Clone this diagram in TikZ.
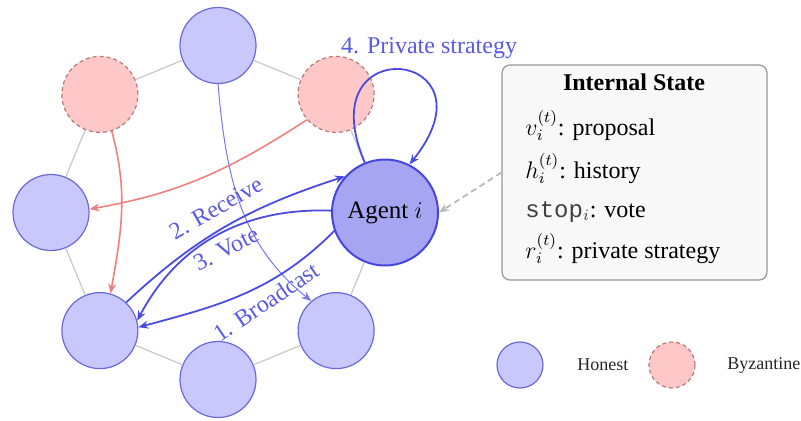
\documentclass[tikz,border=0pt]{standalone}
\usepackage{fontspec}
\setmainfont{Liberation Serif}
\setmonofont{Liberation Mono}
\usetikzlibrary{arrows.meta}
\definecolor{hfill}{RGB}{200,200,252}
\definecolor{hdraw}{RGB}{105,105,215}
\definecolor{afill}{RGB}{165,165,242}
\definecolor{adraw}{RGB}{70,70,222}
\definecolor{bfill}{RGB}{255,200,200}
\definecolor{bdraw}{RGB}{185,120,120}
\definecolor{ablue}{RGB}{75,75,225}
\definecolor{tblue}{RGB}{90,90,225}
\definecolor{thinblue}{RGB}{120,120,232}
\definecolor{rarrow}{RGB}{240,128,128}
\definecolor{ringgray}{RGB}{200,200,200}
\definecolor{boxfill}{RGB}{248,248,248}
\definecolor{boxdraw}{RGB}{150,150,150}
\begin{document}
\begin{tikzpicture}[x=0.5pt,y=0.5pt,
  honest/.style={circle,draw=hdraw,fill=hfill,line width=0.6pt,minimum size=38pt,inner sep=0pt},
  byz/.style={circle,draw=bdraw,fill=bfill,line width=0.6pt,dashed,dash pattern=on 2pt off 1.5pt,minimum size=38pt,inner sep=0pt},
  agentnode/.style={circle,draw=adraw,fill=afill,line width=1pt,minimum size=53pt,inner sep=0pt,font=\fontsize{12.5}{14}\selectfont},
  ringline/.style={draw=ringgray,line width=0.6pt},
  bluearrow/.style={draw=ablue,line width=0.9pt,-{Stealth[length=5pt,width=4pt]}},
  thinarrow/.style={draw=thinblue,line width=0.5pt,-{Stealth[length=5pt,width=4pt]}},
  redarrow/.style={draw=rarrow,line width=0.8pt,-{Stealth[length=5pt,width=4pt]}},
  lbl/.style={text=tblue,font=\fontsize{12}{14}\selectfont,inner sep=1pt},
  boxtext/.style={anchor=base west,font=\fontsize{12}{14}\selectfont,inner sep=0pt},
  legtext/.style={anchor=west,font=\fontsize{9}{11}\selectfont,text=black!85,inner sep=0pt}
]
\useasboundingbox (0,0) rectangle (801,420);

% ring nodes
\node[honest] (top) at (218,374.5) {};
\node[byz] (tr) at (336.1,325.6) {};
\node[agentnode] (agent) at (385,207.5) {Agent $i$};
\node[honest] (br) at (336.1,89.4) {};
\node[honest] (bottom) at (218,40.5) {};
\node[honest] (bl) at (99.9,89.4) {};
\node[honest] (left) at (51,207.5) {};
\node[byz] (tl) at (99.9,325.6) {};

% ring lines
\draw[ringline] (top) -- (tr);
\draw[ringline] (tr) -- (agent);
\draw[ringline] (agent) -- (br);
\draw[ringline] (br) -- (bottom);
\draw[ringline] (bottom) -- (bl);
\draw[ringline] (bl) -- (left);
\draw[ringline] (left) -- (tl);
\draw[ringline] (tl) -- (top);

% internal state box
\node[draw=boxdraw,fill=boxfill,rounded corners=4pt,line width=0.6pt,
      minimum width=132.5pt,minimum height=107.5pt,inner sep=0pt] (box) at (634.5,247.5) {};
\node[anchor=base,font=\bfseries\fontsize{12}{14}\selectfont,inner sep=0pt] (title) at (634,330) {Internal State};
\node[boxtext] (rv) at (525,285) {$v_i^{(t)}$: proposal};
\node[boxtext] (rh) at (525,242) {$h_i^{(t)}$: history};
\node[boxtext] (rs) at (525,203) {{\color{black!75}\texttt{stop}$_i$}: vote};
\node[boxtext] (rr) at (525,162) {$r_i^{(t)}$: private strategy};

% legend
\node[honest,minimum size=23pt] (lh) at (520,55) {};
\node[legtext] (lht) at (577,55) {Honest};
\node[byz,minimum size=23pt] (lb) at (672,55) {};
\node[legtext] (lbt) at (727,55) {Byzantine};

% arrows
\draw[thinarrow] (top.270) to[out=-85,in=141] (br.130);
\draw[redarrow] (tl.-72) to[out=-75,in=80] (bl.74);
\draw[redarrow] (tr.221) to[out=213,in=10] (left.5);
\draw[bluearrow] (bl.47) to[out=43,in=198] (agent.138);
\draw[bluearrow] (agent.178) to[out=178,in=62] (bl.15);
\draw[bluearrow] (agent.200) to[out=225,in=15] (bl.5);
\draw[bluearrow] (agent.112) .. controls +(-58,135) and +(92,115) .. (agent.63);
\draw[draw=gray!55,line width=0.9pt,dash pattern=on 3pt off 2pt,-{Stealth[length=5pt,width=4pt]}] (box.west) -- (agent.east);

% labels
\node[lbl,rotate=30] (l2) at (216,212) {2. Receive};
\node[lbl,rotate=27] (l3) at (226,171) {3. Vote};
\node[lbl,rotate=34] (l1) at (266,118) {1. Broadcast};
\node[lbl] (l4) at (429,372) {4. Private strategy};
\end{tikzpicture}
\end{document}
